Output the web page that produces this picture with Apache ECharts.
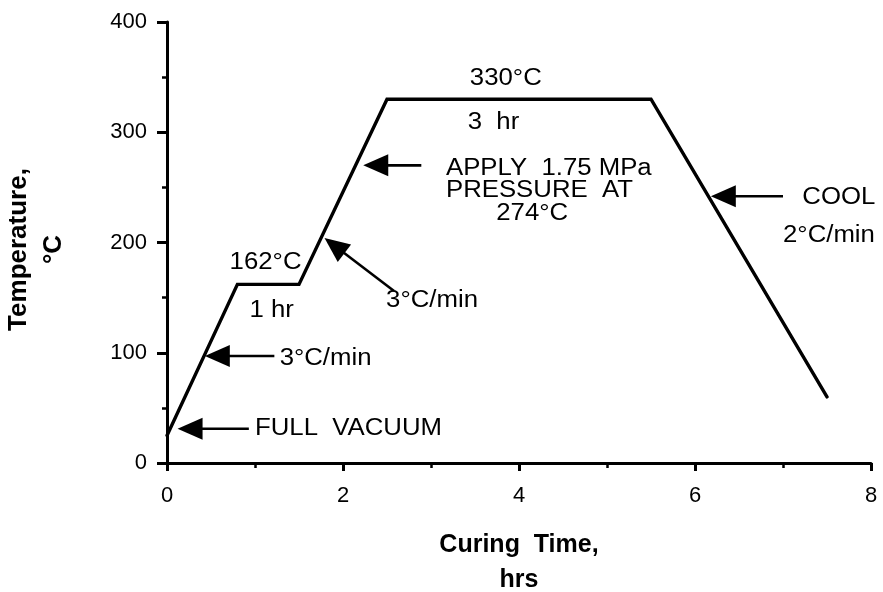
<!DOCTYPE html>
<html>
<head>
<meta charset="utf-8">
<script src="https://cdn.jsdelivr.net/npm/echarts@6/dist/echarts.min.js"></script>
<style>
  html, body { margin: 0; padding: 0; background: #fff; }
  #chart { width: 883px; height: 592px; }
</style>
</head>
<body>
<div id="chart"></div>
<script>
// Cure cycle: time (hrs) vs temperature (°C)
const timeHrs = [0, 0.8, 1.5, 2.5, 5.5, 7.5];
const tempC   = [25, 162, 162, 330, 330, 60];

// Callout arrows (data coordinates): arrowhead tip and shaft tail
const arrowTips  = [[0.12, 31], [0.43, 97], [1.79, 204], [2.23, 270], [6.18, 242]];
const arrowTails = [[0.93, 31], [1.22, 97], [2.58, 156], [2.89, 270], [7.0, 242]];

// Annotation texts and their anchors (data coordinates)
const noteTexts   = ['FULL  VACUUM', '3°C/min', '162°C', '1 hr', '3°C/min', '330°C', '3  hr',
                     'APPLY  1.75 MPa', 'PRESSURE  AT', '274°C', 'COOL', '2°C/min'];
const noteAnchors = [[1.0, 31], [1.28, 95], [1.12, 182], [1.19, 138], [2.49, 147], [3.85, 349], [3.71, 309],
                     [3.17, 267], [3.17, 247], [4.15, 226], [7.22, 241], [7.0, 206]];
const noteAlign   = ['left', 'left', 'center', 'center', 'left', 'center', 'center',
                     'left', 'left', 'center', 'left', 'left'];

const FONT = '"Liberation Sans", Arial, Helvetica, sans-serif';
const chart = echarts.init(document.getElementById('chart'), null, { renderer: 'canvas' });

const axisCommon = {
  type: 'value',
  axisLine: { show: true, onZero: false, lineStyle: { color: '#000', width: 3 } },
  axisTick: { show: true, lineStyle: { color: '#000', width: 3 } },
  minorTick: { show: true, splitNumber: 2, length: 5, lineStyle: { color: '#000', width: 2.5 } },
  splitLine: { show: false },
  axisLabel: { color: '#000', fontSize: 22, fontFamily: FONT }
};

chart.setOption({
  animation: false,
  backgroundColor: '#fff',
  grid: { left: 167, right: 12, top: 22, bottom: 129, containLabel: false, outerBoundsMode: 'none' },
  xAxis: Object.assign({}, axisCommon, {
    min: 0, max: 8, interval: 2,
    axisTick: Object.assign({}, axisCommon.axisTick, { length: 8 }),
    axisLabel: Object.assign({}, axisCommon.axisLabel, { margin: 22 }),
    name: 'Curing  Time,\nhrs',
    nameLocation: 'middle',
    nameGap: 65,
    nameTextStyle: { color: '#000', fontSize: 25, fontWeight: 'bold', fontFamily: FONT, lineHeight: 35 }
  }),
  yAxis: Object.assign({}, axisCommon, {
    min: 0, max: 400, interval: 100,
    axisTick: Object.assign({}, axisCommon.axisTick, { length: 10 }),
    axisLabel: Object.assign({}, axisCommon.axisLabel, { margin: 20 }),
    name: 'Temperature,\n°C',
    nameLocation: 'middle',
    nameRotate: 90,
    nameGap: 96,
    nameTextStyle: { color: '#000', fontSize: 26, fontWeight: 'bold', fontFamily: FONT, lineHeight: 35, padding: [0, 14, 0, 0] }
  }),
  series: [{
    type: 'line',
    data: timeHrs.map((t, i) => [t, tempC[i]]),
    showSymbol: false,
    lineStyle: { color: '#000', width: 3.4, join: 'miter', cap: 'round' },
    silent: true
  }]
});

// Callouts are placed through the chart's own scales
const toPx = p => chart.convertToPixel({ gridIndex: 0 }, p);
const elements = [];
const HEAD_LEN = 25, HEAD_HALF = 11;

arrowTips.forEach((tipD, i) => {
  const tip = toPx(tipD), tail = toPx(arrowTails[i]);
  const dx = tail[0] - tip[0], dy = tail[1] - tip[1];
  const len = Math.hypot(dx, dy);
  const ux = dx / len, uy = dy / len;
  const bx = tip[0] + ux * HEAD_LEN, by = tip[1] + uy * HEAD_LEN;
  elements.push({
    type: 'line',
    shape: { x1: bx - ux * 2, y1: by - uy * 2, x2: tail[0], y2: tail[1] },
    style: { stroke: '#000', lineWidth: 2.6 }
  });
  elements.push({
    type: 'polygon',
    shape: { points: [tip, [bx - uy * HEAD_HALF, by + ux * HEAD_HALF], [bx + uy * HEAD_HALF, by - ux * HEAD_HALF]] },
    style: { fill: '#000' }
  });
});

noteTexts.forEach((txt, i) => {
  const p = toPx(noteAnchors[i]);
  elements.push({
    type: 'text',
    x: p[0], y: p[1],
    scaleX: 1.12,
    style: {
      text: txt,
      font: '23px ' + FONT,
      fill: '#000',
      textAlign: noteAlign[i], align: noteAlign[i],
      textVerticalAlign: 'middle', verticalAlign: 'middle'
    }
  });
});

chart.setOption({ graphic: { elements: elements } });
</script>
</body>
</html>
